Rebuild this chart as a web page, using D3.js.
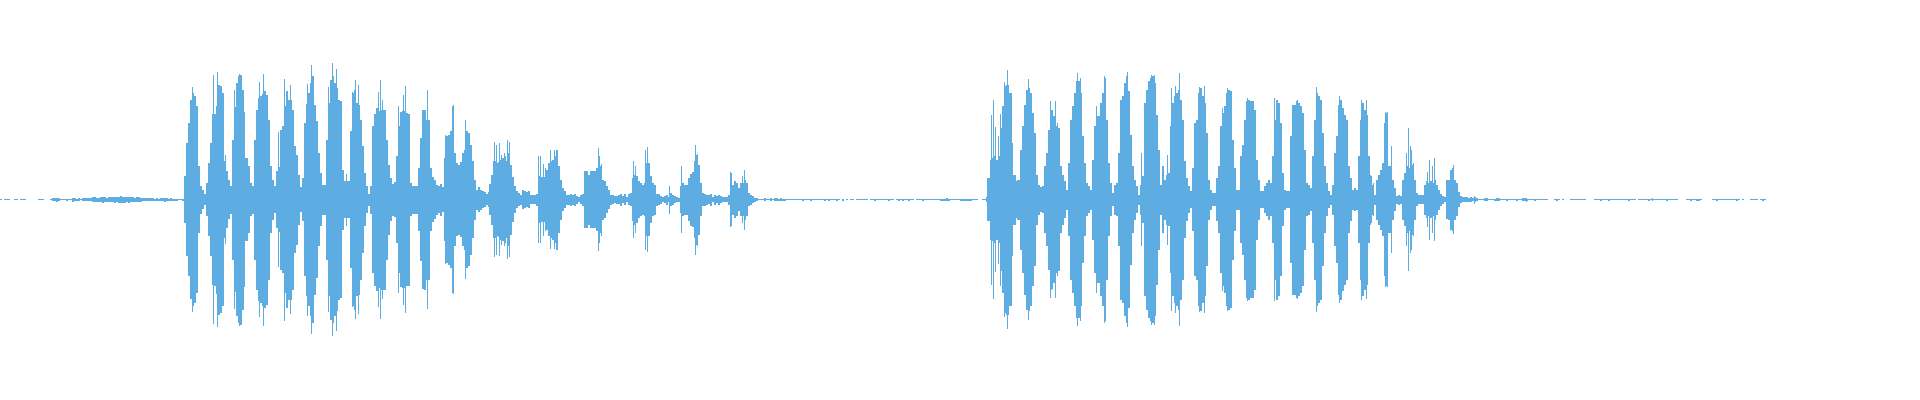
<!DOCTYPE html>
<html>
<head>
<meta charset="utf-8">
<script src="https://cdn.jsdelivr.net/npm/d3@7"></script>
<style>
	html, body { margin: 0; background: #fff; }
	svg { display: block; }
</style>
</head>
<body>
<svg></svg>
<script>
// peak level of the waveform, one value per time step, four stretches of the clip
const stepLength = 6;
const stretchLength = 1440;

const levels1 = [
	2, 0, 2, 2, 2, 0, 0, 2, 2, 0,
	2, 2, 2, 0, 0, 0, 0, 0, 0, 2,
	2, 2, 0, 0, 0, 2, 4, 4, 6, 5,
	2, 2, 2, 3, 2, 2, 6, 4, 3, 4,
	2, 5, 4, 4, 4, 5, 7, 8, 6, 6,
	8, 9, 8, 6, 7, 7, 8, 9, 7, 9,
	10, 9, 9, 8, 9, 7, 8, 6, 8, 7,
	6, 5, 5, 4, 4, 4, 4, 3, 4, 3,
	5, 4, 6, 5, 3, 4, 3, 3, 3, 2,
	2, 3, 70, 170, 230, 298, 320, 310, 280, 100,
	42, 28, 16, 50, 110, 170, 256, 258, 282, 345,
	340, 320, 115, 85, 58, 42, 180, 278, 350, 370,
	375, 330, 240, 125, 100, 50, 42, 180, 270, 305,
	310, 318, 325, 315, 240, 100, 60, 40, 85, 98,
	210, 220, 280, 325, 300, 300, 270, 160, 135, 75,
	38, 65, 230, 288, 320, 350, 370, 285, 235, 140,
	80, 45, 45, 180, 290, 360, 370, 350, 335, 300,
	295, 90, 55, 55, 55, 205, 320, 330, 290, 285,
	240, 160, 80, 40, 18, 42, 220, 258, 275, 265,
	270, 270, 270, 180, 105, 65, 48, 52, 130, 220,
	262, 265, 265, 260, 258, 50, 42, 42, 42, 95,
	185, 268, 270, 240, 240, 95, 68, 58, 45, 40,
	48, 38, 125, 190, 195, 205, 205, 140, 110, 105,
	112, 140, 150, 205, 200, 165, 115, 60, 30, 38
];
const levels2 = [
	30, 25, 22, 16, 22, 45, 75, 115, 110, 112,
	120, 125, 130, 115, 140, 105, 68, 40, 25, 20,
	15, 28, 25, 22, 25, 14, 14, 14, 18, 70,
	68, 68, 68, 90, 110, 115, 120, 130, 150, 100,
	60, 35, 25, 15, 15, 18, 15, 18, 12, 8,
	14, 18, 85, 85, 75, 85, 85, 85, 95, 130,
	100, 60, 55, 40, 28, 15, 14, 10, 12, 14,
	18, 10, 16, 8, 16, 20, 65, 75, 70, 55,
	50, 45, 50, 110, 110, 70, 50, 45, 18, 16,
	12, 8, 10, 15, 8, 20, 15, 10, 8, 6,
	40, 50, 45, 45, 65, 78, 82, 115, 135, 105,
	50, 20, 18, 15, 14, 18, 8, 15, 10, 15,
	10, 8, 8, 8, 15, 80, 45, 55, 50, 35,
	50, 50, 60, 50, 20, 15, 10, 6, 4, 2,
	2, 2, 4, 2, 2, 4, 2, 4, 4, 3,
	5, 3, 3, 2, 2, 2, 2, 2, 2, 2,
	2, 3, 2, 2, 2, 3, 2, 2, 2, 2,
	2, 2, 3, 2, 3, 2, 2, 2, 3, 2,
	0, 3, 0, 2, 0, 2, 2, 0, 2, 2,
	2, 2, 2, 2, 0, 2, 2, 3, 2, 2,
	2, 2, 2, 2, 3, 2, 2, 0, 2, 3,
	2, 3, 2, 2, 3, 2, 2, 0, 2, 2,
	2, 3, 2, 2, 2, 2, 2, 2, 2, 2,
	3, 3, 3, 4, 3, 2, 2, 2, 2, 2
];
const levels3 = [
	3, 3, 3, 3, 3, 3, 2, 2, 2, 0,
	0, 2, 2, 8, 65, 120, 125, 130, 120, 130,
	215, 280, 340, 345, 345, 320, 170, 75, 55, 60,
	150, 220, 285, 330, 335, 320, 260, 200, 75, 45,
	38, 40, 100, 140, 210, 270, 250, 250, 220, 215,
	100, 75, 55, 30, 110, 240, 280, 320, 355, 355,
	320, 190, 110, 50, 40, 30, 120, 220, 250, 250,
	290, 320, 365, 240, 110, 50, 20, 45, 50, 140,
	300, 310, 350, 370, 325, 195, 100, 60, 40, 15,
	45, 70, 290, 330, 355, 365, 370, 350, 255, 150,
	45, 55, 60, 75, 80, 220, 290, 310, 320, 330,
	300, 240, 115, 65, 40, 25, 95, 230, 240, 320,
	335, 310, 290, 200, 60, 30, 20, 20, 65, 100,
	220, 260, 280, 320, 330, 325, 180, 95, 30, 30,
	130, 165, 240, 295, 300, 295, 295, 270, 120, 60,
	25, 25, 40, 50, 60, 50, 130, 240, 300, 290,
	230, 80, 30, 25, 25, 190, 285, 285, 295, 290,
	280, 260, 150, 50, 45, 35, 130, 240, 320, 310,
	300, 200, 100, 50, 25, 15, 45, 140, 190, 285,
	300, 275, 255, 240, 100, 65, 30, 35, 30, 130,
	240, 290, 270, 255, 130, 70, 45, 15, 60, 75,
	90, 110, 230, 260, 100, 100, 60, 35, 12, 15,
	12, 60, 80, 100, 95, 150, 105, 60, 20, 14,
	14, 14, 45, 55, 50, 55, 50, 60, 45, 30
];
const levels4 = [
	18, 12, 8, 58, 60, 90, 95, 60, 50, 22,
	10, 8, 7, 7, 6, 7, 4, 7, 5, 2,
	2, 2, 4, 4, 2, 2, 2, 3, 4, 4,
	2, 2, 2, 3, 2, 2, 2, 2, 3, 2,
	2, 4, 5, 3, 2, 2, 2, 3, 2, 2,
	2, 2, 2, 2, 0, 0, 0, 2, 3, 2,
	0, 2, 0, 0, 0, 2, 2, 2, 2, 2,
	2, 2, 2, 0, 0, 0, 0, 2, 2, 2,
	3, 2, 2, 2, 3, 2, 2, 2, 2, 2,
	2, 2, 2, 2, 3, 2, 2, 2, 0, 2,
	2, 2, 2, 2, 3, 2, 2, 2, 2, 2,
	2, 2, 2, 3, 2, 2, 2, 2, 2, 0,
	0, 0, 0, 2, 2, 3, 2, 2, 3, 3,
	2, 0, 0, 0, 0, 0, 2, 2, 3, 2,
	2, 2, 2, 2, 2, 2, 2, 2, 3, 2,
	0, 2, 0, 0, 0, 2, 2, 2, 2, 0,
	2, 3, 2
];

// narrow peaks that stick out of the stretch they sit in: [time, level]
const spikes1 = [
	[576, 338], [640, 373], [652, 382], [675, 133], [703, 328], [718, 378], [735, 262],
	[779, 353], [790, 378], [836, 203], [853, 363], [871, 343], [922, 348], [935, 403],
	[951, 233], [985, 338], [997, 410], [1010, 393], [1039, 78], [1058, 323], [1065, 358],
	[1076, 343], [1087, 160], [1135, 323], [1141, 358], [1147, 298], [1157, 240], [1195, 280],
	[1210, 315], [1216, 340], [1282, 328], [1336, 193], [1357, 280], [1360, 283], [1396, 238]
];
const spikes2 = [
	[30, 46], [44, 172], [50, 165], [57, 170], [65, 135], [73, 140], [82, 178], [88, 172],
	[175, 130], [181, 130], [190, 108], [196, 95], [212, 148], [222, 148], [355, 155], [363, 108],
	[370, 60], [460, 115], [465, 100], [495, 150], [502, 157], [568, 42], [604, 100], [646, 165],
	[652, 138], [657, 105], [751, 82], [767, 50], [787, 70], [793, 90]
];
const spikes3 = [
	[94, 255], [100, 298], [106, 218], [116, 192], [122, 258], [133, 353], [142, 388], [206, 362],
	[270, 296], [276, 268], [285, 295], [292, 230], [305, 78], [352, 380], [360, 365], [408, 280],
	[432, 370], [502, 382], [545, 140], [574, 375], [583, 375], [606, 100], [610, 100], [622, 135],
	[634, 335], [646, 340], [658, 380], [718, 338], [733, 340], [787, 275], [802, 335], [863, 305],
	[944, 305], [1012, 298], [1069, 338], [1138, 310], [1204, 300], [1219, 298], [1230, 75],
	[1240, 50], [1276, 262], [1282, 262], [1294, 160], [1340, 140], [1346, 215], [1352, 160],
	[1360, 110], [1402, 82], [1408, 120], [1416, 100], [1424, 125]
];
const spikes4 = [[40, 103], [102, 12], [258, 6], [636, 5]];

const width = 1920;
const height = 400;

const svg = d3.select("svg");
svg.attr("width", width).attr("height", height);

const timeScale = d3
	.scaleLinear()
	.domain([0, stretchLength * 4])
	.range([0, width]);
const levelScale = d3
	.scaleLinear()
	.domain([-420, 420])
	.range([339.67, 59.67]);

const steps = [levels1, levels2, levels3, levels4].flatMap((levels, k) =>
	levels.map((d, i) => ({ time: k * stretchLength + i * stepLength, level: d, span: stepLength }))
);
const peaks = [spikes1, spikes2, spikes3, spikes4].flatMap((spikes, k) =>
	spikes.map((d) => ({ time: k * stretchLength + d[0], level: d[1], span: 3 }))
);

// snap to whole pixels, the bars are only one or two pixels wide
const barTop = (d) => Math.round(levelScale(d.level));
const barBottom = (d) => Math.round(levelScale(-d.level));
const barLeft = (d) => Math.floor(timeScale(d.time));
const barRight = (d) => Math.floor(timeScale(d.time + d.span));

svg
	.append("g")
	.attr("fill", "#5dade2")
	.attr("shape-rendering", "crispEdges")
	.selectAll("rect")
	.data(steps.concat(peaks).filter((d) => d.level > 0))
	.enter()
	.append("rect")
	.attr("x", barLeft)
	.attr("width", (d) => barRight(d) - barLeft(d))
	.attr("y", barTop)
	.attr("height", (d) => barBottom(d) - barTop(d));
</script>
</body>
</html>
